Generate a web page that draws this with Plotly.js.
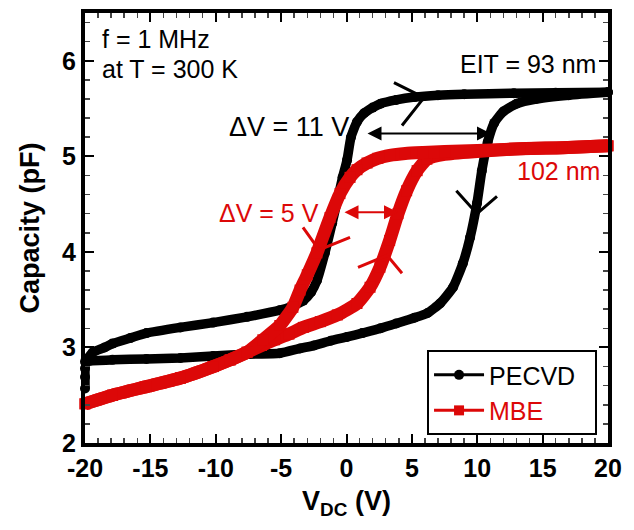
<!DOCTYPE html>
<html>
<head>
<meta charset="utf-8">
<script src="https://cdn.plot.ly/plotly-3.0.1.min.js"></script>
<style>
  html, body { margin: 0; padding: 0; background: #fff; }
  #chart { width: 634px; height: 530px; }
</style>
</head>
<body>
<div id="chart"></div>
<script>
// ---- Data ----
// PECVD, forward sweep (-20 V -> +20 V)
const pecvdUpV = [-20, -20, -20, -19.9, -19.4, -18.5, -17.9, -16.5, -15.3, -12.7, -10.2, -7.6, -5.1, -4.2, -3.3, -2.7, -2.26, -1.65, -1.1, -0.65, -0.3, 0.04, 0.34, 0.8, 1.34, 2.0, 2.6, 3.8, 5.2, 7, 9, 12.8, 16, 20];
const pecvdUpC = [2.57, 2.69, 2.78, 2.86, 2.95, 3.0, 3.04, 3.1, 3.15, 3.21, 3.26, 3.32, 3.39, 3.43, 3.49, 3.58, 3.70, 3.99, 4.30, 4.57, 4.78, 4.96, 5.20, 5.36, 5.45, 5.51, 5.55, 5.59, 5.62, 5.64, 5.65, 5.66, 5.665, 5.67];
// PECVD, backward sweep (+20 V -> -20 V)
const pecvdDownV = [20, 17, 14.5, 13, 12, 11.3, 10.8, 10.35, 9.98, 9.45, 8.9, 8.15, 7.15, 6.2, 5.2, 3.8, 2.6, 1.2, 0.04, -1.2, -2.5, -3.55, -5.1, -7.6, -10.2, -12.7, -15.3, -17.9, -19.6, -20];
const pecvdDownC = [5.67, 5.64, 5.6, 5.55, 5.47, 5.35, 5.15, 4.85, 4.51, 4.15, 3.88, 3.63, 3.46, 3.36, 3.31, 3.25, 3.20, 3.15, 3.11, 3.07, 3.02, 2.99, 2.94, 2.93, 2.91, 2.89, 2.88, 2.87, 2.86, 2.85];
// MBE, forward sweep
const mbeUpV = [-20, -17.9, -15.3, -12.7, -10.2, -8.9, -7.6, -6.5, -5.5, -4.4, -3.3, -2.0, -0.7, 0.8, 1.8, 2.56, 3.3, 3.94, 4.6, 5.4, 6.15, 7.5, 10, 13.3, 16.5, 20];
const mbeUpC = [2.41, 2.50, 2.59, 2.68, 2.80, 2.87, 2.95, 3.02, 3.08, 3.14, 3.21, 3.27, 3.34, 3.46, 3.63, 3.84, 4.12, 4.40, 4.64, 4.85, 4.97, 5.02, 5.05, 5.08, 5.09, 5.11];
// MBE, backward sweep
const mbeDownV = [20, 16.5, 13.3, 10, 7.5, 5.85, 4.5, 3.3, 2.4, 1.57, 0.8, 0.27, -0.5, -1.26, -2.26, -3.0, -3.55, -4.1, -5.1, -6.4, -7.6, -8.9, -10.2, -12.7, -15.3, -17.9, -20];
const mbeDownC = [5.11, 5.09, 5.08, 5.06, 5.05, 5.04, 5.03, 5.01, 4.98, 4.93, 4.86, 4.78, 4.61, 4.36, 3.99, 3.76, 3.60, 3.42, 3.23, 3.08, 2.95, 2.87, 2.80, 2.68, 2.59, 2.50, 2.41];

const seriesNames = ['PECVD', 'MBE'];
const xTickVals = [-20, -15, -10, -5, 0, 5, 10, 15, 20];
const yTickVals = [2, 3, 4, 5, 6];

// Text labels
const labelText = ['f = 1 MHz', 'at T = 300 K', 'EIT = 93 nm', '\u0394V = 11 V', '102 nm', '\u0394V = 5 V'];
const labelV = [-18.85, -18.85, 19.2, -9.14, 19.55, -9.9];
const labelC = [6.23, 5.915, 5.968, 5.312, 4.842, 4.409];
const labelAnchor = ['left', 'left', 'right', 'left', 'right', 'left'];
const labelColor = ['#000', '#000', '#000', '#000', '#dc0808', '#dc0808'];
const labelSize = [25, 25, 25, 27, 25, 25];

// Double-headed ΔV arrows
const dvArrowStartV = [1.49, -0.27];
const dvArrowEndV = [11.05, 3.94];
const dvArrowC = [5.24, 4.414];
const dvArrowColor = ['#000', '#dc0808'];

// Sweep-direction chevrons: arm1 -> apex -> arm2
const chevArm1V = [3.63, 8.4, -3.33, 0.88];
const chevArm1C = [5.772, 4.64, 4.257, 3.839];
const chevApexV = [5.93, 9.98, -2.1, 3.1];
const chevApexC = [5.615, 4.40, 4.02, 3.964];
const chevArm2V = [4.245, 11.51, 0.27, 4.245];
const chevArm2C = [5.323, 4.581, 4.153, 3.776];
const chevColor = ['#000', '#000', '#dc0808', '#dc0808'];

const RED = '#dc0808';
const FONT = 'Liberation Sans, Arial, Helvetica, sans-serif';

const traces = [
  {x: pecvdUpV, y: pecvdUpC, mode: 'lines+markers', showlegend: false, cliponaxis: false,
   line: {color: '#000', width: 9.5, shape: 'spline', smoothing: 0.5},
   marker: {symbol: 'circle', size: 10, color: '#000'}},
  {x: pecvdDownV, y: pecvdDownC, mode: 'lines+markers', showlegend: false, cliponaxis: false,
   line: {color: '#000', width: 9.5, shape: 'spline', smoothing: 0.5},
   marker: {symbol: 'circle', size: 10, color: '#000'}},
  {x: mbeUpV, y: mbeUpC, mode: 'lines+markers', showlegend: false, cliponaxis: false,
   line: {color: RED, width: 13, shape: 'spline', smoothing: 0.5},
   marker: {symbol: 'square', size: 11, color: RED}},
  {x: mbeDownV, y: mbeDownC, mode: 'lines+markers', showlegend: false, cliponaxis: false,
   line: {color: RED, width: 13, shape: 'spline', smoothing: 0.5},
   marker: {symbol: 'square', size: 11, color: RED}},
  // legend entries
  {x: [null], y: [null], name: seriesNames[0] + '\u00a0\u00a0', mode: 'lines+markers',
   line: {color: '#000', width: 3}, marker: {symbol: 'circle', size: 10, color: '#000'}},
  {x: [null], y: [null], name: seriesNames[1], mode: 'lines+markers',
   line: {color: RED, width: 3}, marker: {symbol: 'square', size: 10, color: RED}}
];

const annotations = [];
for (let i = 0; i < labelText.length; i++) {
  annotations.push({
    text: labelText[i], x: labelV[i], y: labelC[i], xref: 'x', yref: 'y',
    xanchor: labelAnchor[i], yanchor: 'middle', showarrow: false,
    font: {family: FONT, size: labelSize[i], color: labelColor[i]}
  });
}
for (let i = 0; i < dvArrowC.length; i++) {
  annotations.push({
    text: '', x: dvArrowEndV[i], y: dvArrowC[i], ax: dvArrowStartV[i], ay: dvArrowC[i],
    xref: 'x', yref: 'y', axref: 'x', ayref: 'y', showarrow: true,
    arrowside: 'end+start', arrowhead: 2, arrowsize: 1.4, arrowwidth: 2, arrowcolor: dvArrowColor[i]
  });
}

const shapes = [];
for (let i = 0; i < chevApexV.length; i++) {
  shapes.push({
    type: 'path', xref: 'x', yref: 'y',
    path: `M ${chevArm1V[i]},${chevArm1C[i]} L ${chevApexV[i]},${chevApexC[i]} L ${chevArm2V[i]},${chevArm2C[i]}`,
    line: {color: chevColor[i], width: 3}
  });
}

const axisCommon = {
  showline: true, linecolor: '#000', linewidth: 4, mirror: 'allticks',
  ticks: 'inside', ticklen: 9, tickwidth: 2, tickcolor: '#000',
  showgrid: false, zeroline: false,
  tickfont: {family: FONT, size: 25, color: '#000', weight: 'bold'}
};

const layout = {
  width: 634, height: 530,
  margin: {l: 85, r: 26, t: 13, b: 87},
  paper_bgcolor: '#fff', plot_bgcolor: '#fff',
  font: {family: FONT, color: '#000'},
  xaxis: Object.assign({}, axisCommon, {
    range: [-20, 20], tickvals: xTickVals, ticktext: xTickVals.map(String),
    minor: {dtick: 1, tick0: 0, ticks: 'inside', ticklen: 5, tickwidth: 1.5, tickcolor: '#444'},
    title: {text: '<b>V<sub>DC</sub> (V)</b>', font: {family: FONT, size: 27, color: '#000'}, standoff: 11}
  }),
  yaxis: Object.assign({}, axisCommon, {
    range: [2, 6.5], tickvals: yTickVals, ticktext: yTickVals.map(String),
    minor: {dtick: 0.2, tick0: 0, ticks: 'inside', ticklen: 5, tickwidth: 1.5, tickcolor: '#444'},
    title: {text: '<b>Capacity (pF)</b>', font: {family: FONT, size: 27, color: '#000'}, standoff: 16}
  }),
  legend: {
    x: 0.654, y: 0.216, xanchor: 'left', yanchor: 'top',
    bordercolor: '#000', borderwidth: 2, bgcolor: '#fff',
    font: {family: FONT, size: 25, color: '#000'}, itemwidth: 50
  },
  annotations: annotations,
  shapes: shapes,
  showlegend: true
};

Plotly.newPlot('chart', traces, layout, {displayModeBar: false, staticPlot: true}).then(function () {
  const texts = document.querySelectorAll('.legend .legendtext');
  if (texts.length > 1) texts[1].style.fill = RED;
});
</script>
</body>
</html>
